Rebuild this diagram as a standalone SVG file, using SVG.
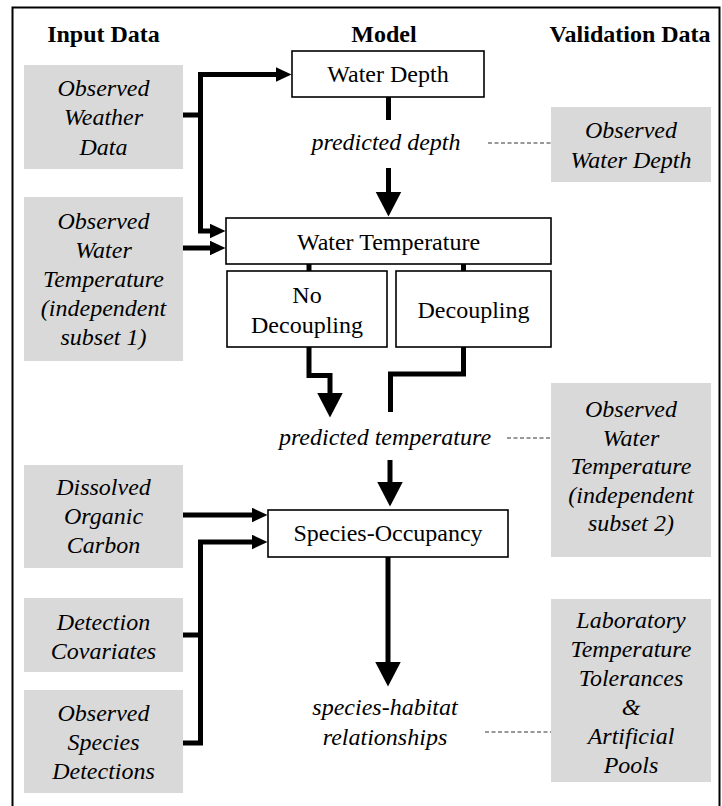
<svg xmlns="http://www.w3.org/2000/svg" width="722" height="806" viewBox="0 0 722 806">
<style>
  text { font-family: "Liberation Serif", "Times New Roman", Times, Tinos, "DejaVu Serif", serif; font-size: 24px; fill: #000; text-anchor: middle; }
  .hdr { font-weight: bold; }
  .it { font-style: italic; }
  .gray { fill: #d9d9d9; stroke: none; }
  .box { fill: #fff; stroke: #000; stroke-width: 1.6; }
  .conn { fill: none; stroke: #000; stroke-width: 5; stroke-linejoin: miter; stroke-linecap: butt; }
  .dash { fill: none; stroke: #333; stroke-width: 1; stroke-dasharray: 4 2.5; }
</style>
<defs>
  <marker id="ah" markerUnits="userSpaceOnUse" markerWidth="17" markerHeight="16" refX="0.5" refY="7.5" orient="auto">
    <path d="M0,0 L16,7.5 L0,15 z" fill="#000"/>
  </marker>
  <marker id="ahb" markerUnits="userSpaceOnUse" markerWidth="26" markerHeight="27" refX="0.5" refY="13" orient="auto">
    <path d="M0,0 L25,13 L0,26 z" fill="#000"/>
  </marker>
</defs>
<rect x="12.5" y="7.5" width="707" height="812" fill="none" stroke="#000" stroke-width="2"/>

<g id="headers">
  <text class="hdr" x="103.5" y="42">Input Data</text>
  <text class="hdr" x="384" y="42">Model</text>
  <text class="hdr" x="630" y="42">Validation Data</text>
</g>

<g id="connectors">
  <path class="conn" d="M183,115 H200.5 V74.5 H276" marker-end="url(#ah)"/>
  <path class="conn" d="M200.5,115 V231 H210" marker-end="url(#ah)"/>
  <path class="conn" d="M183,248 H210" marker-end="url(#ah)"/>
  <path class="conn" d="M388.5,97 V120"/>
  <path class="conn" d="M388.5,168 V192" marker-end="url(#ahb)"/>
  <path class="conn" d="M309,264 V271"/>
  <path class="conn" d="M463.5,264 V271"/>
  <path class="conn" d="M309,347 V375.5 H330 V393" marker-end="url(#ahb)"/>
  <path class="conn" d="M463.5,347 V374 H390.5 V412"/>
  <path class="conn" d="M390,460 V482" marker-end="url(#ahb)"/>
  <path class="conn" d="M183,515 H252" marker-end="url(#ah)"/>
  <path class="conn" d="M183,635 H200.5"/>
  <path class="conn" d="M183,743 H200.5 V542 H252" marker-end="url(#ah)"/>
  <path class="conn" d="M388,557 V662" marker-end="url(#ahb)"/>
  <path class="dash" d="M488,143 H551"/>
  <path class="dash" d="M507,438 H551"/>
  <path class="dash" d="M485,732 H551"/>
</g>

<g id="obs-weather">
  <rect class="gray" x="24" y="65" width="159" height="104"/>
  <text class="it" x="103.5" y="96">Observed</text>
  <text class="it" x="103.5" y="125">Weather</text>
  <text class="it" x="103.5" y="155">Data</text>
</g>
<g id="obs-water-temp-1">
  <rect class="gray" x="24" y="197" width="159" height="164"/>
  <text class="it" x="103.5" y="229">Observed</text>
  <text class="it" x="103.5" y="258">Water</text>
  <text class="it" x="103.5" y="287">Temperature</text>
  <text class="it" x="103.5" y="316">(independent</text>
  <text class="it" x="103.5" y="345">subset 1)</text>
</g>
<g id="doc">
  <rect class="gray" x="24" y="465" width="159" height="103"/>
  <text class="it" x="103.5" y="495">Dissolved</text>
  <text class="it" x="103.5" y="524">Organic</text>
  <text class="it" x="103.5" y="553">Carbon</text>
</g>
<g id="detection-covariates">
  <rect class="gray" x="24" y="598" width="159" height="74"/>
  <text class="it" x="103.5" y="630">Detection</text>
  <text class="it" x="103.5" y="659">Covariates</text>
</g>
<g id="obs-species">
  <rect class="gray" x="24" y="690" width="159" height="103"/>
  <text class="it" x="103.5" y="721">Observed</text>
  <text class="it" x="103.5" y="750">Species</text>
  <text class="it" x="103.5" y="779">Detections</text>
</g>

<g id="water-depth">
  <rect class="box" x="292" y="51" width="192" height="46"/>
  <text x="388" y="82">Water Depth</text>
</g>
<g id="predicted-depth">
  <text class="it" x="386" y="150">predicted depth</text>
</g>
<g id="water-temperature">
  <rect class="box" x="226" y="218" width="325" height="46"/>
  <text x="388.5" y="250">Water Temperature</text>
</g>
<g id="no-decoupling">
  <rect class="box" x="227" y="271" width="160" height="76"/>
  <text x="307" y="303">No</text>
  <text x="307" y="333">Decoupling</text>
</g>
<g id="decoupling">
  <rect class="box" x="396" y="271" width="155" height="76"/>
  <text x="473.5" y="318">Decoupling</text>
</g>
<g id="predicted-temperature">
  <text class="it" x="385" y="445">predicted temperature</text>
</g>
<g id="species-occupancy">
  <rect class="box" x="268" y="510" width="240" height="47"/>
  <text x="388" y="541">Species-Occupancy</text>
</g>
<g id="species-habitat">
  <text class="it" x="385" y="715">species-habitat</text>
  <text class="it" x="385" y="745">relationships</text>
</g>

<g id="obs-water-depth">
  <rect class="gray" x="551" y="107" width="160" height="75"/>
  <text class="it" x="631" y="138">Observed</text>
  <text class="it" x="631" y="168">Water Depth</text>
</g>
<g id="obs-water-temp-2">
  <rect class="gray" x="551" y="383" width="160" height="174"/>
  <text class="it" x="631" y="417">Observed</text>
  <text class="it" x="631" y="445.5">Water</text>
  <text class="it" x="631" y="474">Temperature</text>
  <text class="it" x="631" y="502.5">(independent</text>
  <text class="it" x="631" y="531">subset 2)</text>
</g>
<g id="lab-tolerances">
  <rect class="gray" x="551" y="599" width="160" height="183"/>
  <text class="it" x="631" y="628">Laboratory</text>
  <text class="it" x="631" y="657">Temperature</text>
  <text class="it" x="631" y="686">Tolerances</text>
  <text class="it" x="631" y="715">&amp;</text>
  <text class="it" x="631" y="744">Artificial</text>
  <text class="it" x="631" y="773">Pools</text>
</g>
</svg>
